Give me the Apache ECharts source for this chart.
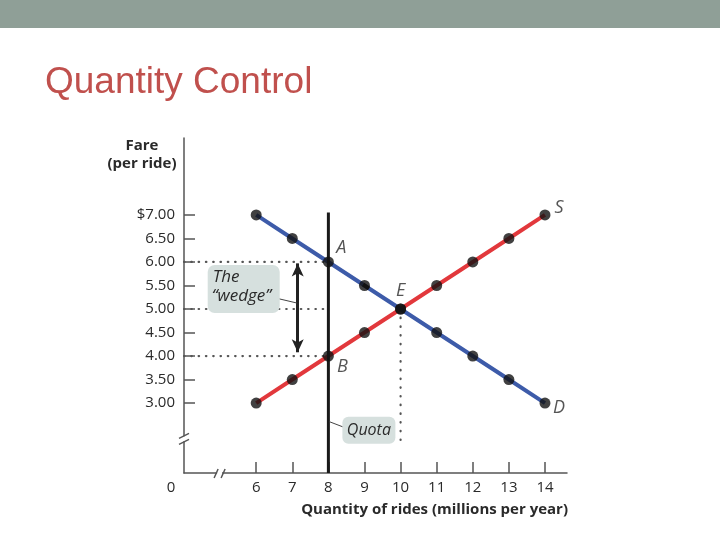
<!DOCTYPE html>
<html><head><meta charset="utf-8">
<script src="https://cdn.jsdelivr.net/npm/echarts@6/dist/echarts.min.js"></script>
<style>html,body{margin:0;padding:0;background:#fff}#c{width:720px;height:540px}</style>
</head><body><div id="c"></div>
<script>
// ---- data ----
const quantities = [6, 7, 8, 9, 10, 11, 12, 13, 14];
const demandFares = [7, 6.5, 6, 5.5, 5, 4.5, 4, 3.5, 3];
const supplyFares = [3, 3.5, 4, 4.5, 5, 5.5, 6, 6.5, 7];
const yTickValues = [3, 3.5, 4, 4.5, 5, 5.5, 6, 6.5, 7];
const xTickValues = [6, 7, 8, 9, 10, 11, 12, 13, 14];
const quotaQty = 8;
const quotaTop = 7.05;
const pointA = [8, 6];
const pointB = [8, 4];
const pointE = [10, 5];
const pointS = [14, 7];
const pointD = [14, 3];
const wedgeArrowX = 7.15;
const wedgeArrowTop = 5.97;
const wedgeArrowBottom = 4.08;
const yBreakValue = 2.25;
const xBreakValue = 5.0;
const eDropEnd = 2.08;

const yMin = 1.513, yMax = 8.636, xMin = 4, xMax = 14.61;
const FONT = "'Open Sans', 'Noto Sans', sans-serif";
const TXT = '#2a2a2a';
const AX = '#555';

const demandData = quantities.map((q, i) => [q, demandFares[i]]);
const supplyData = quantities.map((q, i) => [q, supplyFares[i]]);
const dotData = demandData.concat(supplyData);

const dotted = { color: '#555', width: 2.2, type: [0.5, 6.8], cap: 'round' };
const dottedV = { color: '#555', width: 2.2, type: [0.5, 8.2], cap: 'round' };

const chart = echarts.init(document.getElementById('c'), null, { renderer: 'canvas' });

const labelItems = [
  { name: 'A', value: pointA, label: { offset: [13, -14] } },
  { name: 'B', value: pointB, label: { offset: [14, 11] } },
  { name: 'E', value: pointE, label: { offset: [0, -18] } },
  { name: 'S', value: pointS, label: { offset: [14, -7] } },
  { name: 'D', value: pointD, label: { offset: [14, 5] } }
];

chart.setOption({
  animation: false,
  backgroundColor: '#fff',
  grid: { left: 184, right: 153, top: 138, bottom: 67, containLabel: false },
  xAxis: {
    type: 'value', min: xMin, max: xMax,
    splitLine: { show: false },
    axisLine: { lineStyle: { color: AX, width: 1.5 } },
    axisTick: { inside: true, length: 11, customValues: xTickValues, lineStyle: { color: AX, width: 1.5 } },
    axisLabel: { customValues: xTickValues, color: TXT, fontFamily: FONT, fontSize: 15, margin: 7 }
  },
  yAxis: {
    type: 'value', min: yMin, max: yMax,
    splitLine: { show: false },
    axisLine: { show: true, lineStyle: { color: AX, width: 1.5 } },
    axisTick: { show: true, inside: true, length: 11, customValues: yTickValues, lineStyle: { color: AX, width: 1.5 } },
    axisLabel: {
      customValues: yTickValues, color: TXT, fontFamily: FONT, fontSize: 15, margin: 9,
      formatter: v => (v === 7 ? '$7.00' : v.toFixed(2))
    }
  },
  series: [
    { type: 'line', data: [[xMin, pointA[1]], pointA], showSymbol: false, lineStyle: dotted, z: 1, silent: true },
    { type: 'line', data: [[xMin, pointE[1]], [quotaQty, pointE[1]]], showSymbol: false, lineStyle: dotted, z: 1, silent: true },
    { type: 'line', data: [[xMin, pointB[1]], pointB], showSymbol: false, lineStyle: dotted, z: 1, silent: true },
    { type: 'line', data: [pointE, [pointE[0], eDropEnd]], showSymbol: false, lineStyle: dottedV, z: 1, silent: true },
    { type: 'line', name: 'Supply', data: supplyData, showSymbol: false, lineStyle: { color: '#e2383c', width: 4 }, z: 3 },
    { type: 'line', name: 'Demand', data: demandData, showSymbol: false, lineStyle: { color: '#3d5ba9', width: 4 }, z: 3 },
    { type: 'line', data: [[8.96, 5.52], [9.12, 5.44]], showSymbol: false, lineStyle: { color: '#111', width: 4 }, z: 4 },
    { type: 'line', name: 'Quota', data: [[quotaQty, yMin], [quotaQty, quotaTop]], showSymbol: false, lineStyle: { color: '#1a1a1a', width: 3 }, z: 4 },
    { type: 'scatter', data: dotData, symbol: 'circle', symbolSize: 11, itemStyle: { color: '#111' }, z: 10 },
    {
      type: 'line', data: [], z: 5, silent: true,
      markLine: {
        silent: true, symbol: ['arrow', 'arrow'], symbolSize: [9, 13],
        lineStyle: { color: '#222', width: 3, type: 'solid' },
        label: { show: false },
        data: [[{ coord: [wedgeArrowX, wedgeArrowTop] }, { coord: [wedgeArrowX, wedgeArrowBottom] }]]
      }
    },
    {
      type: 'scatter', data: labelItems, symbolSize: 0, z: 11, silent: true,
      label: { show: true, position: 'inside', formatter: '{b}', color: TXT, fontFamily: FONT, fontStyle: 'italic', fontSize: 18 }
    }
  ]
});

// decorations positioned from the axes
const px = (x, y) => chart.convertToPixel({ gridIndex: 0 }, [x, y]);
const origin = px(xMin, yMin);
const yb = px(xMin, yBreakValue);
const xb = px(xBreakValue, yMin);
const wedgeTop = px(wedgeArrowX, 6);
const quotaAt = px(quotaQty, 2.2);

const brk = { stroke: '#555', lineWidth: 1.5 };
const graphics = [
  { type: 'rect', shape: { x: 0, y: 0, width: 720, height: 28 }, style: { fill: '#8f9f97' } },
  { type: 'text', x: 45, y: 83, style: { text: 'Quantity Control', font: "37px 'Liberation Sans', Arial, sans-serif", fill: '#c0504d', verticalAlign: 'middle' } },
  { type: 'text', x: 142, y: 155, style: { text: 'Fare\n(per ride)', font: "bold 15px " + FONT, fill: TXT, align: 'center', verticalAlign: 'middle', lineHeight: 18 } },
  { type: 'text', x: 568, y: 510, style: { text: 'Quantity of rides (millions per year)', font: "bold 15px " + FONT, fill: TXT, align: 'right', verticalAlign: 'middle' } },
  { type: 'text', x: origin[0] - 13, y: origin[1] + 15, style: { text: '0', font: "15px " + FONT, fill: TXT, align: 'center', verticalAlign: 'middle' } },
  // y axis break
  { type: 'rect', shape: { x: yb[0] - 3, y: yb[1] - 2, width: 6, height: 5 }, style: { fill: '#fff' }, z: 50 },
  { type: 'line', shape: { x1: yb[0] - 5, y1: yb[1] - 0, x2: yb[0] + 5, y2: yb[1] - 5 }, style: brk, z: 51 },
  { type: 'line', shape: { x1: yb[0] - 5, y1: yb[1] + 6, x2: yb[0] + 5, y2: yb[1] + 1 }, style: brk, z: 51 },
  // x axis break
  { type: 'rect', shape: { x: xb[0] - 3, y: xb[1] - 3, width: 5, height: 6 }, style: { fill: '#fff' }, z: 50 },
  { type: 'line', shape: { x1: xb[0] - 6, y1: xb[1] + 5, x2: xb[0] - 2, y2: xb[1] - 4 }, style: brk, z: 51 },
  { type: 'line', shape: { x1: xb[0] + 1, y1: xb[1] + 5, x2: xb[0] + 5, y2: xb[1] - 4 }, style: brk, z: 51 },
  // wedge callout
  { type: 'rect', shape: { x: wedgeTop[0] - 90, y: wedgeTop[1] + 3, width: 72, height: 48, r: 7 }, style: { fill: '#d6e0de' }, z: 20 },
  { type: 'text', x: wedgeTop[0] - 85, y: wedgeTop[1] + 15, style: { text: 'The', font: "italic 17px " + FONT, fill: TXT, verticalAlign: 'middle' }, z: 21 },
  { type: 'text', x: wedgeTop[0] - 86, y: wedgeTop[1] + 34, style: { text: '\u201cwedge\u201d', font: "italic 17px " + FONT, fill: TXT, verticalAlign: 'middle' }, z: 21 },
  { type: 'line', shape: { x1: wedgeTop[0] - 18, y1: wedgeTop[1] + 37, x2: wedgeTop[0] - 1, y2: wedgeTop[1] + 41 }, style: { stroke: '#444', lineWidth: 1 }, z: 21 },
  // quota callout
  { type: 'rect', shape: { x: quotaAt[0] + 14, y: quotaAt[1] - 24, width: 53, height: 27, r: 6 }, style: { fill: '#d6e0de' }, z: 20 },
  { type: 'text', x: quotaAt[0] + 40.5, y: quotaAt[1] - 10.5, style: { text: 'Quota', font: "italic 16px " + FONT, fill: TXT, align: 'center', verticalAlign: 'middle' }, z: 21 },
  { type: 'line', shape: { x1: quotaAt[0] + 1, y1: quotaAt[1] - 19, x2: quotaAt[0] + 14, y2: quotaAt[1] - 14 }, style: { stroke: '#444', lineWidth: 1 }, z: 21 }
];
chart.setOption({ graphic: graphics });
</script></body></html>
